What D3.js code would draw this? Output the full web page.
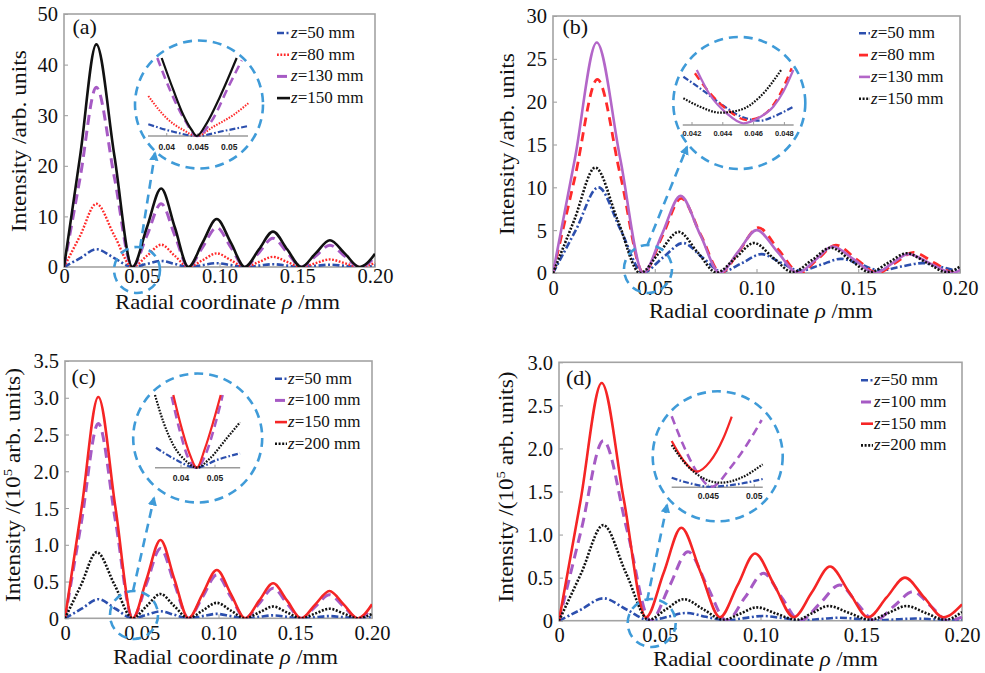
<!DOCTYPE html>
<html><head><meta charset="utf-8">
<script src="https://cdn.jsdelivr.net/npm/d3@7"></script>
<style>body{margin:0;background:#fff} svg{display:block}</style>
</head><body>
<svg id="chart" width="985" height="673"></svg>
<script>
// ---------------- data ----------------
const xTicks = [0, 0.05, 0.10, 0.15, 0.20];
const xTickLabels = ["0", "0.05", "0.10", "0.15", "0.20"];
const yTicksA = [0, 10, 20, 30, 40, 50];
const yTicksB = [0, 5, 10, 15, 20, 25, 30];
const yTicksC = [0, 0.5, 1.0, 1.5, 2.0, 2.5, 3.0, 3.5];
const yTicksD = [0, 0.5, 1.0, 1.5, 2.0, 2.5, 3.0];
const yTickLabelsA = ["0", "10", "20", "30", "40", "50"];
const yTickLabelsB = ["0", "5", "10", "15", "20", "25", "30"];
const yTickLabelsC = ["0", "0.5", "1.0", "1.5", "2.0", "2.5", "3.0", "3.5"];
const yTickLabelsD = ["0", "0.5", "1.0", "1.5", "2.0", "2.5", "3.0"];

// panel (a): [rho (mm), intensity (arb. units)]
const a_z50 = [[0,0],[0.0104,1.75],[0.0208,3.5],[0.0324,1.75],[0.044,0],[0.0533,0.6],[0.0625,1.2],[0.0713,0.6],[0.08,0],[0.0891,0.37],[0.0982,0.75],[0.1073,0.37],[0.1163,0],[0.1254,0.28],[0.1344,0.55],[0.1435,0.28],[0.1526,0],[0.1618,0.22],[0.171,0.45],[0.1805,0.22],[0.19,0],[0.195,0.1],[0.2,0.3]];
const a_z80 = [[0,0],[0.0104,6.2],[0.0208,12.5],[0.0324,6.2],[0.044,0],[0.0533,2.2],[0.0625,4.4],[0.0713,2.2],[0.08,0],[0.0891,1.35],[0.0982,2.7],[0.1073,1.35],[0.1163,0],[0.1254,1.0],[0.1344,2.0],[0.1435,1.0],[0.1526,0],[0.1618,0.75],[0.171,1.5],[0.1805,0.75],[0.19,0],[0.195,0.25],[0.2,0.8]];
const a_z130 = [[0,0],[0.0104,17.7],[0.0208,35.5],[0.0324,17.7],[0.044,0],[0.0533,6.2],[0.0625,12.5],[0.0713,6.2],[0.08,0],[0.0891,3.9],[0.0982,7.8],[0.1073,3.9],[0.1163,0],[0.1254,2.85],[0.1344,5.7],[0.1435,2.85],[0.1526,0],[0.1618,2.15],[0.171,4.3],[0.1805,2.15],[0.19,0],[0.195,0.6],[0.2,2.0]];
const a_z150 = [[0,0],[0.0104,22],[0.0208,44],[0.0324,22],[0.044,0],[0.0533,7.8],[0.0625,15.5],[0.0713,7.8],[0.08,0],[0.0891,4.8],[0.0982,9.5],[0.1073,4.8],[0.1163,0],[0.1254,3.5],[0.1344,7.0],[0.1435,3.5],[0.1526,0],[0.1618,2.7],[0.171,5.3],[0.1805,2.7],[0.19,0],[0.195,0.8],[0.2,2.6]];

// panel (b)
const b_z50 = [[0,0],[0.0112,5.0],[0.0223,10.0],[0.0333,5.0],[0.0442,0.05],[0.054,1.8],[0.0639,3.5],[0.0735,1.8],[0.083,0.15],[0.0928,1.15],[0.1025,2.2],[0.112,1.2],[0.1214,0.25],[0.1315,0.95],[0.1415,1.65],[0.151,1.0],[0.1607,0.3],[0.171,0.75],[0.1815,1.15],[0.19,0.75],[0.198,0.35],[0.2,0.4]];
const b_z80 = [[0,0],[0.0109,11.3],[0.0218,22.6],[0.0332,11.3],[0.0445,0],[0.0538,4.35],[0.063,8.7],[0.0728,4.35],[0.0825,0],[0.0917,2.65],[0.1009,5.3],[0.111,2.65],[0.1212,0],[0.13,1.6],[0.139,3.25],[0.1492,1.6],[0.1595,0],[0.1683,1.2],[0.1772,2.4],[0.1873,1.2],[0.1975,0],[0.2,0.3]];
const b_z130 = [[0,0],[0.0108,13.4],[0.0215,26.9],[0.033,13.4],[0.0444,0],[0.0535,4.5],[0.0627,9.0],[0.0723,4.5],[0.082,0],[0.091,2.5],[0.1001,5.0],[0.1102,2.5],[0.1203,0],[0.129,1.55],[0.1374,3.1],[0.148,1.55],[0.1585,0],[0.1665,1.1],[0.1745,2.2],[0.1855,1.1],[0.1966,0],[0.2,0.35]];
const b_z150 = [[0,0],[0.0104,6.15],[0.0208,12.3],[0.0318,6.15],[0.0428,0],[0.0523,2.4],[0.0618,4.8],[0.0711,2.4],[0.0804,0.05],[0.0896,1.75],[0.0988,3.5],[0.1083,1.75],[0.1178,0.1],[0.1272,1.5],[0.1365,2.95],[0.1462,1.5],[0.1558,0.1],[0.1648,1.2],[0.1738,2.3],[0.1837,1.2],[0.1935,0.1],[0.2,0.75]];

// panel (c): intensity in 1e5 arb. units
const c_z50 = [[0,0],[0.0108,0.13],[0.0217,0.26],[0.0329,0.13],[0.0441,0],[0.0531,0.047],[0.0622,0.095],[0.0713,0.047],[0.0804,0],[0.0896,0.03],[0.0989,0.06],[0.1081,0.03],[0.1174,0],[0.1265,0.02],[0.1356,0.04],[0.1447,0.02],[0.1539,0],[0.1631,0.015],[0.1723,0.03],[0.1815,0.015],[0.1907,0],[0.2,0.02]];
const c_z100 = [[0,0],[0.0108,1.32],[0.0217,2.65],[0.0329,1.32],[0.0441,0],[0.0531,0.47],[0.0622,0.95],[0.0713,0.47],[0.0804,0],[0.0896,0.29],[0.0989,0.59],[0.1081,0.29],[0.1174,0],[0.1265,0.2],[0.1356,0.41],[0.1447,0.2],[0.1539,0],[0.1631,0.16],[0.1723,0.32],[0.1815,0.16],[0.1907,0],[0.1953,0.04],[0.2,0.14]];
const c_z150 = [[0,0],[0.0108,1.5],[0.0217,3.01],[0.0329,1.5],[0.0441,0],[0.0531,0.53],[0.0622,1.065],[0.0713,0.53],[0.0804,0],[0.0896,0.33],[0.0989,0.657],[0.1081,0.33],[0.1174,0],[0.1265,0.24],[0.1356,0.476],[0.1447,0.24],[0.1539,0],[0.1631,0.19],[0.1723,0.372],[0.1815,0.19],[0.1907,0],[0.1953,0.06],[0.2,0.19]];
const c_z200 = [[0,0],[0.0104,0.45],[0.0207,0.9],[0.0324,0.45],[0.0441,0],[0.0531,0.165],[0.0622,0.33],[0.0713,0.165],[0.0804,0],[0.0896,0.105],[0.0989,0.21],[0.1081,0.105],[0.1174,0],[0.1265,0.08],[0.1356,0.16],[0.1447,0.08],[0.1539,0],[0.1631,0.065],[0.1723,0.13],[0.1815,0.065],[0.1907,0],[0.2,0.06]];

// panel (d): intensity in 1e5 arb. units
const d_z50 = [[0,0],[0.011,0.13],[0.022,0.26],[0.0335,0.13],[0.045,0.005],[0.054,0.045],[0.063,0.09],[0.073,0.045],[0.083,0.005],[0.092,0.03],[0.101,0.055],[0.111,0.03],[0.121,0.005],[0.13,0.02],[0.139,0.035],[0.1485,0.02],[0.158,0.005],[0.1675,0.015],[0.177,0.025],[0.1865,0.015],[0.196,0.005],[0.2,0.01]];
const d_z100 = [[0,0],[0.011,1.05],[0.022,2.09],[0.0338,1.05],[0.0455,0],[0.0548,0.4],[0.064,0.8],[0.0736,0.4],[0.0832,0],[0.0923,0.27],[0.1015,0.55],[0.1105,0.27],[0.1196,0],[0.1295,0.2],[0.1393,0.415],[0.148,0.2],[0.1568,0],[0.1663,0.17],[0.1758,0.337],[0.1845,0.17],[0.1932,0],[0.2,0.04]];
const d_z150 = [[0,0],[0.0106,1.38],[0.0212,2.76],[0.0322,1.4],[0.0432,0.04],[0.052,0.56],[0.0607,1.08],[0.0703,0.56],[0.0799,0.04],[0.0886,0.41],[0.0973,0.78],[0.1069,0.41],[0.1165,0.04],[0.1255,0.33],[0.1345,0.63],[0.144,0.33],[0.1535,0.04],[0.1626,0.27],[0.1717,0.5],[0.1812,0.27],[0.1907,0.04],[0.2,0.19]];
const d_z200 = [[0,0],[0.011,0.55],[0.022,1.11],[0.0333,0.55],[0.0445,0.01],[0.053,0.13],[0.062,0.25],[0.0718,0.13],[0.0815,0.01],[0.0898,0.08],[0.0981,0.155],[0.108,0.08],[0.118,0.01],[0.1258,0.09],[0.1337,0.17],[0.144,0.09],[0.1543,0.01],[0.1634,0.09],[0.1725,0.17],[0.182,0.09],[0.1916,0.01],[0.2,0.1]];

// zoomed insets near the first minimum: [rho, relative intensity]
const ia_z50 = [[0.03705,0.15],[0.04105,0.055],[0.04479,0],[0.04905,0.064],[0.05305,0.128]];
const ia_z80 = [[0.03705,0.513],[0.03999,0.227],[0.04265,0.077],[0.04484,0],[0.04745,0.119],[0.05065,0.269],[0.05305,0.419]];
const ia_z130 = [[0.03849,1.0],[0.04084,0.53],[0.04292,0.2],[0.04484,0],[0.04724,0.2],[0.0498,0.62],[0.052,0.97]];
const ia_z150 = [[0.03919,1.0],[0.04105,0.59],[0.04265,0.27],[0.04399,0.077],[0.04479,0],[0.04639,0.163],[0.04852,0.504],[0.05119,1.0]];

const ib_z50 = [[0.04144,0.847],[0.04252,0.644],[0.04382,0.381],[0.04512,0.158],[0.04642,0.075],[0.04728,0.146],[0.04858,0.321]];
const ib_z80 = [[0.04219,0.907],[0.04317,0.556],[0.04447,0.233],[0.04555,0.088],[0.04653,0.158],[0.0475,0.439],[0.04847,0.995]];
const ib_z130 = [[0.04231,0.965],[0.04317,0.526],[0.04425,0.205],[0.04533,0.03],[0.04642,0.14],[0.04728,0.321],[0.04793,0.584],[0.04858,0.965]];
const ib_z150 = [[0.04144,0.468],[0.04252,0.321],[0.04382,0.216],[0.04512,0.263],[0.04642,0.496],[0.04782,0.977]];

const ic_z50 = [[0.03265,0.275],[0.03774,0.129],[0.04462,0],[0.0505,0.106],[0.05735,0.198]];
const ic_z100 = [[0.03726,0.977],[0.03971,0.495],[0.04215,0.129],[0.04462,0],[0.04756,0.22],[0.05,0.587],[0.05226,1.0]];
const ic_z150 = [[0.03774,1.0],[0.04021,0.541],[0.04265,0.175],[0.04462,0],[0.04706,0.267],[0.0495,0.633],[0.05168,1.0]];
const ic_z200 = [[0.03235,1.0],[0.03479,0.633],[0.03774,0.313],[0.04168,0.083],[0.04462,0],[0.04853,0.129],[0.05344,0.404],[0.05735,0.624]];

const id_z50 = [[0.04102,0.134],[0.04301,0.056],[0.04518,0.008],[0.04809,0.042],[0.05091,0.117]];
const id_z100 = [[0.04102,1.0],[0.04228,0.595],[0.04374,0.22],[0.04537,0.008],[0.04736,0.268],[0.04917,0.596],[0.0508,0.948]];
const id_z150 = [[0.04102,0.651],[0.04228,0.383],[0.04374,0.22],[0.04518,0.361],[0.04663,0.69],[0.04754,0.994]];
const id_z200 = [[0.04102,0.595],[0.04265,0.314],[0.04446,0.127],[0.04627,0.065],[0.04845,0.127],[0.05091,0.324]];

const insetTicksA = [0.04, 0.045, 0.05], insetTickLabelsA = ["0.04", "0.045", "0.05"];
const insetTicksB = [0.042, 0.044, 0.046, 0.048], insetTickLabelsB = ["0.042", "0.044", "0.046", "0.048"];
const insetTicksC = [0.04, 0.05], insetTickLabelsC = ["0.04", "0.05"];
const insetTicksD = [0.045, 0.05], insetTickLabelsD = ["0.045", "0.05"];

// ---------------- styles ----------------
const CIRC = "#3f9bd8";
const STY = {
  blueDD:     {stroke: "#2c4fae", w: 2.6, dash: "7,2.5,2,2.5"},
  redDot:     {stroke: "#ff2a2a", w: 2.4, dash: "1.8,1.6"},
  purpleDash: {stroke: "#a65ac4", w: 3.0, dash: "10,6"},
  blackSolid: {stroke: "#111111", w: 2.6, dash: null},
  redDash:    {stroke: "#ff2a2a", w: 2.8, dash: "9,6"},
  purpleSolid:{stroke: "#b366c8", w: 2.6, dash: null},
  blackDot:   {stroke: "#111111", w: 2.6, dash: "2,1.6"},
  redSolid:   {stroke: "#f52525", w: 2.6, dash: null}
};
const SERIF = "'Liberation Serif', 'Times New Roman', serif";
const SANS = "'Liberation Sans', Arial, sans-serif";

const panels = [
  { tag: "(a)", frame: {l: 64, r: 375, t: 14, b: 267}, yMax: 50, yTicks: yTicksA, yLabels: yTickLabelsA,
    yTitle: "arb", yTitlePos: [26, 141, 182], xTitlePos: [227.5, 309, 225], xLabelDy: 16,
    tagPos: [72.5, 34],
    series: [
      {z: "50", data: a_z50, inset: ia_z50, s: "blueDD"},
      {z: "80", data: a_z80, inset: ia_z80, s: "redDot"},
      {z: "130", data: a_z130, inset: ia_z130, s: "purpleDash"},
      {z: "150", data: a_z150, inset: ia_z150, s: "blackSolid"}],
    legend: {x0: 277, x1: 290, tx: 291, y0: 32, dy: 21.7},
    inset: {dom: [0.037, 0.053], rng: [148, 248], yr: [136, 58], ext: [0.037, 0.053],
            ticks: insetTicksA, labels: insetTickLabelsA, lblY: 149.5, fs: 8.5},
    big: [199, 104.5, 64], small: [137, 270, 23], arrow: [140, 248, 155, 153] },
  { tag: "(b)", frame: {l: 553, r: 960, t: 16, b: 273}, yMax: 30, yTicks: yTicksB, yLabels: yTickLabelsB,
    yTitle: "arb", yTitlePos: [514, 144, 182], xTitlePos: [761, 317.5, 224], xLabelDy: 21.5,
    tagPos: [562.5, 34],
    series: [
      {z: "50", data: b_z50, inset: ib_z50, s: "blueDD"},
      {z: "80", data: b_z80, inset: ib_z80, s: "redDash"},
      {z: "130", data: b_z130, inset: ib_z130, s: "purpleSolid"},
      {z: "150", data: b_z150, inset: ib_z150, s: "blackDot"}],
    legend: {x0: 859, x1: 870, tx: 871, y0: 32.3, dy: 21.8},
    inset: {dom: [0.042, 0.048], rng: [692, 784.4], yr: [125, 68], ext: [0.0414, 0.0486],
            ticks: insetTicksB, labels: insetTickLabelsB, lblY: 135.5, fs: 7.5},
    big: [739.3, 103, 66], small: [648, 269, 24], arrow: [647, 246, 687, 147] },
  { tag: "(c)", frame: {l: 65, r: 372, t: 361, b: 618.3}, yMax: 3.5, yTicks: yTicksC, yLabels: yTickLabelsC,
    yTitle: "e5", yTitlePos: [20, 485, 234], xTitlePos: [225.5, 663.5, 225], xLabelDy: 21.5,
    tagPos: [71.5, 384],
    series: [
      {z: "50", data: c_z50, inset: ic_z50, s: "blueDD"},
      {z: "100", data: c_z100, inset: ic_z100, s: "purpleDash"},
      {z: "150", data: c_z150, inset: ic_z150, s: "redSolid"},
      {z: "200", data: c_z200, inset: ic_z200, s: "blackDot"}],
    legend: {x0: 275, x1: 287, tx: 288, y0: 377.7, dy: 21.7},
    inset: {dom: [0.04, 0.05], rng: [181, 215], yr: [467.7, 395], ext: [0.03235, 0.0574],
            ticks: insetTicksC, labels: insetTickLabelsC, lblY: 480.5, fs: 8.5},
    big: [197.7, 438, 64.5], small: [134, 615, 24], arrow: [133, 591, 154, 498] },
  { tag: "(d)", frame: {l: 559, r: 962, t: 362.3, b: 620.7}, yMax: 3.0, yTicks: yTicksD, yLabels: yTickLabelsD,
    yTitle: "e5", yTitlePos: [512.5, 487, 231], xTitlePos: [765.5, 665.5, 225], xLabelDy: 21.5,
    tagPos: [566, 385],
    series: [
      {z: "50", data: d_z50, inset: id_z50, s: "blueDD"},
      {z: "100", data: d_z100, inset: id_z100, s: "purpleDash"},
      {z: "150", data: d_z150, inset: id_z150, s: "redSolid"},
      {z: "200", data: d_z200, inset: id_z200, s: "blackDot"}],
    legend: {x0: 861, x1: 873, tx: 874, y0: 379.3, dy: 21.7},
    inset: {dom: [0.045, 0.05], rng: [708.3, 754.3], yr: [487.3, 416.3], ext: [0.04102, 0.05092],
            ticks: insetTicksD, labels: insetTickLabelsD, lblY: 499, fs: 8.5},
    big: [717.7, 456.3, 65], small: [651.7, 623, 24], arrow: [647, 601, 667, 505] }
];

// ---------------- drawing ----------------
const svg = d3.select("#chart");
svg.append("rect").attr("width", 985).attr("height", 673).attr("fill", "#fff");
const defs = svg.append("defs");
defs.append("marker").attr("id", "arrow").attr("viewBox", "0 0 10 10")
  .attr("refX", 8).attr("refY", 5).attr("markerWidth", 3.6).attr("markerHeight", 3.6)
  .attr("orient", "auto")
  .append("path").attr("d", "M0,0L10,5L0,10z").attr("fill", CIRC);

function styleLine(sel, st, scale) {
  sel.attr("fill", "none").attr("stroke", st.stroke).attr("stroke-width", st.w * scale)
     .attr("stroke-dasharray", st.dash ? st.dash.split(",").map(v => +v * scale).join(",") : null)
     .attr("stroke-linejoin", "round");
}

panels.forEach((p, pi) => {
  const f = p.frame;
  const g = svg.append("g");
  const x = d3.scaleLinear().domain([0, 0.2]).range([f.l, f.r]);
  const y = d3.scaleLinear().domain([0, p.yMax]).range([f.b, f.t]);

  // axes
  const xAxis = d3.axisBottom(x).tickValues(xTicks).tickFormat((d, i) => xTickLabels[i]).tickSize(-4).tickPadding(0);
  const gx = g.append("g").attr("transform", `translate(0,${f.b})`).call(xAxis);
  gx.select(".domain").remove();
  gx.selectAll(".tick line").attr("stroke", "#999").attr("stroke-width", 1);
  gx.selectAll(".tick text").attr("font-family", SERIF).attr("font-size", 20.5).attr("fill", "#111")
    .attr("dy", null).attr("y", p.xLabelDy);

  const yAxis = d3.axisLeft(y).tickValues(p.yTicks).tickFormat((d, i) => p.yLabels[i]).tickSize(-4).tickPadding(0);
  const gy = g.append("g").attr("transform", `translate(${f.l},0)`).call(yAxis);
  gy.select(".domain").remove();
  gy.selectAll(".tick line").attr("stroke", "#999").attr("stroke-width", 1);
  gy.selectAll(".tick text").attr("font-family", SERIF).attr("font-size", 20.5).attr("fill", "#111")
    .attr("x", -6).attr("dy", "0.34em");

  // frame
  g.append("rect").attr("x", f.l).attr("y", f.t).attr("width", f.r - f.l).attr("height", f.b - f.t)
    .attr("fill", "none").attr("stroke", "#a3a3a3").attr("stroke-width", 1.6);

  // curves
  const clipId = "clip" + pi;
  defs.append("clipPath").attr("id", clipId).append("rect")
    .attr("x", f.l).attr("y", f.t - 2).attr("width", f.r - f.l).attr("height", f.b - f.t + 2);
  const line = d3.line().x(d => x(d[0])).y(d => y(d[1])).curve(d3.curveMonotoneX);
  const gc = g.append("g").attr("clip-path", `url(#${clipId})`);
  p.series.forEach(s => {
    gc.append("path").attr("d", line(s.data)).call(styleLine, STY[s.s], 1);
  });

  // inset
  const ins = p.inset;
  const ix = d3.scaleLinear().domain(ins.dom).range(ins.rng);
  const iy = d3.scaleLinear().domain([0, 1]).range(ins.yr);
  const gi = g.append("g");
  gi.append("line").attr("x1", ix(ins.ext[0])).attr("x2", ix(ins.ext[1]))
    .attr("y1", iy(0)).attr("y2", iy(0)).attr("stroke", "#9a9a9a").attr("stroke-width", 1.5);
  ins.ticks.forEach((t, i) => {
    gi.append("line").attr("x1", ix(t)).attr("x2", ix(t)).attr("y1", iy(0)).attr("y2", iy(0) - 3)
      .attr("stroke", "#9a9a9a").attr("stroke-width", 1);
    gi.append("text").attr("x", ix(t)).attr("y", ins.lblY).attr("text-anchor", "middle")
      .attr("font-family", SANS).attr("font-weight", "bold").attr("font-size", ins.fs).attr("fill", "#222")
      .text(ins.labels[i]);
  });
  const iline = d3.line().x(d => ix(d[0])).y(d => iy(d[1])).curve(d3.curveMonotoneX);
  p.series.forEach(s => {
    gi.append("path").attr("d", iline(s.inset)).call(styleLine, STY[s.s], 0.85);
  });

  // annotation circles + arrow
  const circ = sel => sel.attr("fill", "none").attr("stroke", CIRC).attr("stroke-width", 2.6).attr("stroke-dasharray", "9,6");
  g.append("circle").attr("cx", p.big[0]).attr("cy", p.big[1]).attr("r", p.big[2]).call(circ);
  g.append("circle").attr("cx", p.small[0]).attr("cy", p.small[1]).attr("r", p.small[2]).call(circ);
  g.append("line").attr("x1", p.arrow[0]).attr("y1", p.arrow[1]).attr("x2", p.arrow[2]).attr("y2", p.arrow[3])
    .call(circ).attr("marker-end", "url(#arrow)");

  // legend
  const L = p.legend;
  p.series.forEach((s, i) => {
    const yy = L.y0 + i * L.dy;
    g.append("line").attr("x1", L.x0).attr("x2", L.x1).attr("y1", yy + 1).attr("y2", yy + 1)
      .call(styleLine, STY[s.s], 1);
    const t = g.append("text").attr("x", L.tx).attr("y", yy + 6)
      .attr("font-family", SERIF).attr("font-size", 17).attr("fill", "#111");
    t.append("tspan").attr("font-style", "italic").text("z");
    t.append("tspan").text("=" + s.z + " mm");
  });

  // panel tag
  g.append("text").attr("x", p.tagPos[0]).attr("y", p.tagPos[1]).attr("font-family", SERIF)
    .attr("font-size", 22).attr("fill", "#111").text(p.tag);

  // axis titles
  const xt = g.append("text").attr("x", p.xTitlePos[0]).attr("y", p.xTitlePos[1]).attr("text-anchor", "middle")
    .attr("font-family", SERIF).attr("font-size", 21).attr("fill", "#111")
    .attr("textLength", p.xTitlePos[2]).attr("lengthAdjust", "spacingAndGlyphs");
  xt.append("tspan").text("Radial coordinate ");
  xt.append("tspan").attr("font-style", "italic").text("ρ");
  xt.append("tspan").text(" /mm");

  const yt = g.append("text").attr("transform", `translate(${p.yTitlePos[0]},${p.yTitlePos[1]}) rotate(-90)`)
    .attr("text-anchor", "middle").attr("font-family", SERIF).attr("font-size", 20.5).attr("fill", "#111")
    .attr("textLength", p.yTitlePos[2]).attr("lengthAdjust", "spacingAndGlyphs");
  if (p.yTitle === "arb") {
    yt.text("Intensity /arb. units");
  } else {
    yt.append("tspan").text("Intensity /(10");
    yt.append("tspan").attr("font-size", 13).attr("dy", -8).text("5");
    yt.append("tspan").attr("dy", 8).text(" arb. units)");
  }
});
</script>
</body></html>
